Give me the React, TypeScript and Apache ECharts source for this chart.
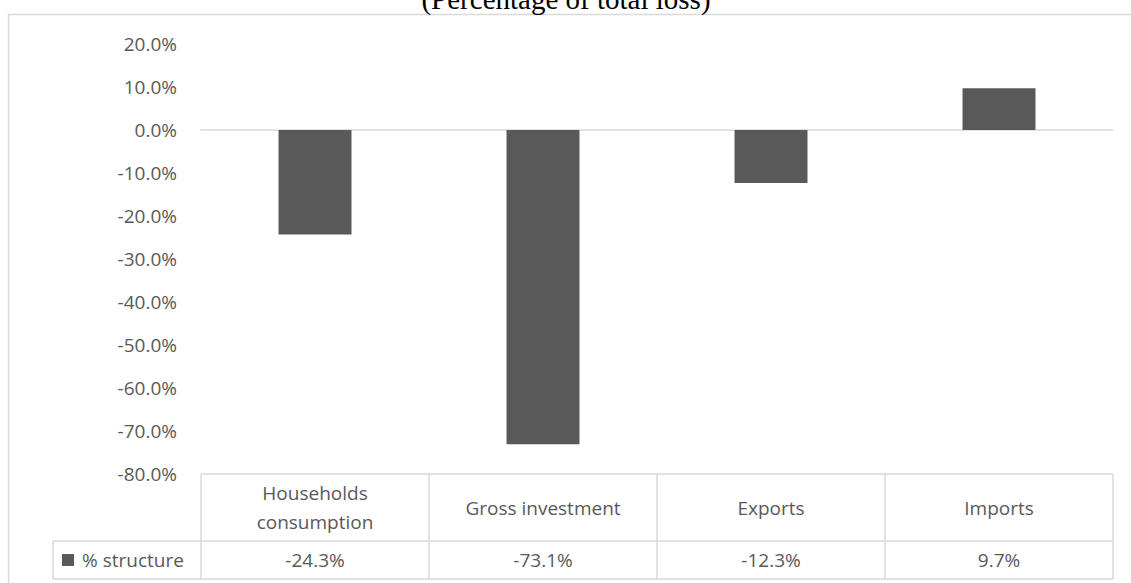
import React, { useEffect, useRef } from "react";
import * as echarts from "echarts";

const title = "(Percentage of total loss)";
const categories = ["Households\nconsumption", "Gross investment", "Exports", "Imports"];
const seriesName = "% structure";
const values = [-24.3, -73.1, -12.3, 9.7];
const yMin = -80;
const yMax = 20;
const yInterval = 10;

const W = 1131;
const H = 583;
const GRID = { left: 201, right: 18, top: 44, bottom: 109 };
const FONT = "'Open Sans', sans-serif";
const TXT = "#595959";
const LINE = "#d9d9d9";
const BAR = "#595959";

export default function App() {
  const ref = useRef<HTMLDivElement>(null);
  useEffect(() => {
    const chart = echarts.init(ref.current!, null, { renderer: "svg" });
    chart.setOption({
      animation: false,
      grid: { ...GRID, containLabel: false },
      xAxis: {
        type: "category",
        data: categories,
        axisLine: { onZero: true, lineStyle: { color: LINE, width: 1.5 } },
        axisTick: { show: false },
        axisLabel: { show: false },
        splitLine: { show: false },
      },
      yAxis: {
        type: "value",
        min: yMin,
        max: yMax,
        interval: yInterval,
        axisLine: { show: false },
        axisTick: { show: false },
        splitLine: { show: false },
        axisLabel: {
          formatter: (v: number) => v.toFixed(1) + "%",
          color: TXT,
          fontFamily: FONT,
          fontSize: 19,
          margin: 24,
        },
      },
      series: [
        {
          type: "bar",
          name: seriesName,
          data: values,
          barCategoryGap: "68%",
          itemStyle: { color: BAR },
        },
      ],
    });

    const plotLeft = GRID.left;
    const plotRight = W - GRID.right;
    const band = (plotRight - plotLeft) / categories.length;
    const tTop = H - GRID.bottom;
    const tMid = 541;
    const tBot = 579;
    const legLeft = 53;

    const els: any[] = [];
    els.push({
      type: "rect",
      shape: { x: 8.5, y: 14.5, width: 1130, height: 580 },
      style: { fill: "none", stroke: LINE, lineWidth: 1.5 },
      silent: true,
    });
    const hl = (x1: number, x2: number, y: number) =>
      els.push({ type: "line", shape: { x1, y1: y, x2, y2: y }, style: { stroke: LINE, lineWidth: 1.5 } });
    const vl = (x: number, y1: number, y2: number) =>
      els.push({ type: "line", shape: { x1: x, y1, x2: x, y2 }, style: { stroke: LINE, lineWidth: 1.5 } });
    hl(plotLeft, plotRight, tTop);
    hl(legLeft, plotRight, tMid);
    hl(legLeft, plotRight, tBot);
    vl(legLeft, tMid, tBot);
    for (let i = 0; i <= categories.length; i++) vl(plotLeft + i * band, tTop, tBot);

    categories.forEach((c, i) => {
      const cx = chart.convertToPixel({ xAxisIndex: 0 }, i) as number;
      els.push({
        type: "text",
        x: cx,
        y: (tTop + tMid) / 2,
        style: { text: c, fill: TXT, font: `19px ${FONT}`, align: "center", verticalAlign: "middle", lineHeight: 29 },
      });
      els.push({
        type: "text",
        x: cx,
        y: (tMid + tBot) / 2,
        style: { text: values[i].toFixed(1) + "%", fill: TXT, font: `19px ${FONT}`, align: "center", verticalAlign: "middle" },
      });
    });
    els.push({
      type: "rect",
      shape: { x: 62, y: 554, width: 12, height: 12 },
      style: { fill: BAR },
    });
    els.push({
      type: "text",
      x: 82,
      y: (tMid + tBot) / 2,
      style: { text: seriesName, fill: TXT, font: `19px ${FONT}`, align: "left", verticalAlign: "middle" },
    });
    els.push({
      type: "text",
      x: 566,
      y: -1,
      style: { text: title, fill: "#000", font: `29px 'Liberation Serif', 'Times New Roman', serif`, align: "center", verticalAlign: "middle" },
    });

    chart.setOption({ graphic: { elements: els } });
    return () => chart.dispose();
  }, []);
  return <div ref={ref} style={{ position: "fixed", left: 0, top: 0, width: W, height: H, background: "#fff" }} />;
}
